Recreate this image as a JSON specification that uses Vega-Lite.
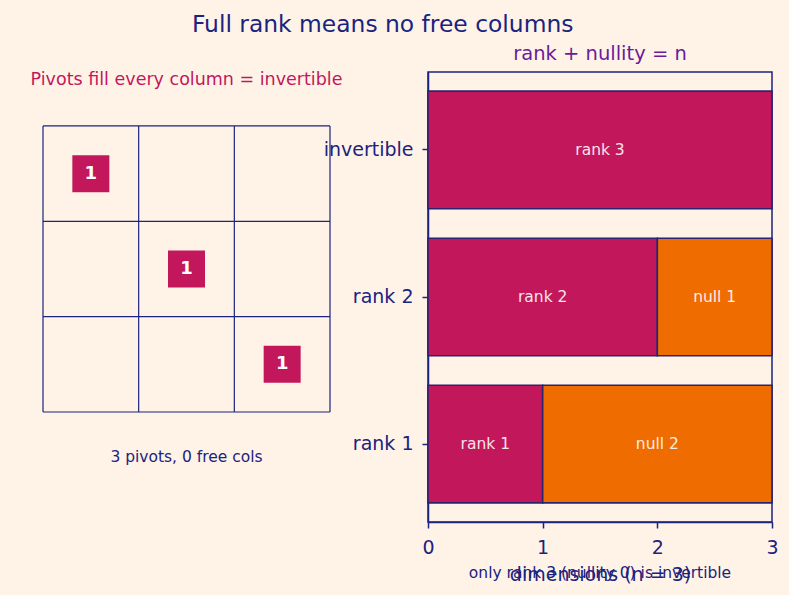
{
  "$schema": "https://vega.github.io/schema/vega-lite/v6.json",
  "background": "#FFF3E8",
  "padding": {"left": 30, "top": 13, "right": 10, "bottom": 10},
  "title": {"text": "Full rank means no free columns", "fontSize": 23.4, "fontWeight": "normal", "color": "#1A237E", "font": "DejaVu Sans", "anchor": "middle", "offset": 5, "dx": -22},
  "config": {"font": "DejaVu Sans", "view": {"stroke": null}},
  "spacing": 98,
  "bounds": "flush",
  "hconcat": [
    {
      "width": 287,
      "height": 450,
      "view": {"stroke": null},
      "layer": [
        {
          "data": {"values": [{"v": 0}, {"v": 1}, {"v": 2}, {"v": 3}]},
          "mark": {"type": "rule", "color": "#1A237E", "strokeWidth": 1.2},
          "encoding": {
            "x": {"field": "v", "type": "quantitative", "scale": {"domain": [0, 3], "nice": false, "zero": false}, "axis": null},
            "y": {"datum": 0, "type": "quantitative", "scale": {"domain": [-0.566, 4.154], "reverse": true, "nice": false, "zero": false}, "axis": null},
            "y2": {"datum": 3}
          }
        },
        {
          "data": {"values": [{"v": 0}, {"v": 1}, {"v": 2}, {"v": 3}]},
          "mark": {"type": "rule", "color": "#1A237E", "strokeWidth": 1.2},
          "encoding": {
            "y": {"field": "v", "type": "quantitative"},
            "x": {"datum": 0, "type": "quantitative"},
            "x2": {"datum": 3}
          }
        },
        {
          "data": {"values": [{"col": 0.5, "row": 0.5, "val": "1"}, {"col": 1.5, "row": 1.5, "val": "1"}, {"col": 2.5, "row": 2.5, "val": "1"}]},
          "layer": [
            {
              "mark": {"type": "square", "size": 1369, "filled": true, "color": "#C2185B", "opacity": 1},
              "encoding": {
                "x": {"field": "col", "type": "quantitative"},
                "y": {"field": "row", "type": "quantitative"}
              }
            },
            {
              "mark": {"type": "text", "color": "white", "fontSize": 18, "fontWeight": "bold", "baseline": "middle", "align": "center"},
              "encoding": {
                "x": {"field": "col", "type": "quantitative"},
                "y": {"field": "row", "type": "quantitative"},
                "text": {"field": "val"}
              }
            }
          ]
        },
        {
          "data": {"values": [{"t": "Pivots fill every column = invertible"}]},
          "mark": {"type": "text", "color": "#C2185B", "fontSize": 17.5, "baseline": "middle", "align": "center"},
          "encoding": {
            "x": {"datum": 1.5, "type": "quantitative"},
            "y": {"datum": -0.482, "type": "quantitative"},
            "text": {"field": "t"}
          }
        },
        {
          "data": {"values": [{"t": "3 pivots, 0 free cols"}]},
          "mark": {"type": "text", "color": "#1A237E", "fontSize": 15.5, "baseline": "middle", "align": "center"},
          "encoding": {
            "x": {"datum": 1.5, "type": "quantitative"},
            "y": {"datum": 3.473, "type": "quantitative"},
            "text": {"field": "t"}
          }
        }
      ]
    },
    {
      "width": 344,
      "height": 450,
      "view": {"stroke": "#1A237E", "strokeWidth": 1.5},
      "title": {"text": "rank + nullity = n", "color": "#6A1B9A", "fontSize": 19.5, "fontWeight": "normal", "offset": 8},
      "layer": [
        {
          "data": {"values": [
            {"cat": "invertible", "part": "rank", "k": 1, "val": 3, "label": "rank 3"},
            {"cat": "rank 2", "part": "rank", "k": 1, "val": 2, "label": "rank 2"},
            {"cat": "rank 2", "part": "null", "k": 2, "val": 1, "label": "null 1"},
            {"cat": "rank 1", "part": "rank", "k": 1, "val": 1, "label": "rank 1"},
            {"cat": "rank 1", "part": "null", "k": 2, "val": 2, "label": "null 2"}
          ]},
          "transform": [
            {"stack": "val", "groupby": ["cat"], "sort": [{"field": "k", "order": "ascending"}], "as": ["x0", "x1"]},
            {"calculate": "(datum.x0 + datum.x1) / 2", "as": "xm"}
          ],
          "layer": [
            {
              "mark": {"type": "bar", "stroke": "#2A2470", "strokeWidth": 1.6},
              "encoding": {
                "y": {"field": "cat", "type": "nominal", "sort": ["invertible", "rank 2", "rank 1"], "scale": {"paddingInner": 0.2, "paddingOuter": 0.13},
                  "axis": {"title": null, "labelFontSize": 19, "labelColor": "#1A237E", "tickColor": "#1A237E", "domainColor": "#1A237E", "domainWidth": 1.5, "tickWidth": 1.5, "tickSize": 6, "labelPadding": 9}},
                "x": {"field": "x0", "type": "quantitative", "scale": {"domain": [0, 3], "nice": false},
                  "axis": {"title": "dimensions (n = 3)", "titleFontSize": 19, "titleFontWeight": "normal", "titleColor": "#1A237E", "titlePadding": 8, "values": [0, 1, 2, 3], "format": "d", "labelFlush": false, "labelFontSize": 19, "labelColor": "#1A237E", "tickColor": "#1A237E", "domainColor": "#1A237E", "domainWidth": 1.5, "tickWidth": 1.5, "tickSize": 6, "labelPadding": 10, "grid": false}},
                "x2": {"field": "x1"},
                "color": {"field": "part", "type": "nominal", "scale": {"domain": ["rank", "null"], "range": ["#C2185B", "#EF6C00"]}, "legend": null}
              }
            },
            {
              "mark": {"type": "text", "color": "white", "opacity": 0.88, "fontSize": 15.5, "baseline": "middle", "align": "center"},
              "encoding": {
                "y": {"field": "cat", "type": "nominal", "sort": ["invertible", "rank 2", "rank 1"]},
                "x": {"field": "xm", "type": "quantitative"},
                "text": {"field": "label"}
              }
            }
          ]
        },
        {
          "data": {"values": [{"t": "only rank 3 (nullity 0) is invertible"}]},
          "mark": {"type": "text", "color": "#1A237E", "fontSize": 15.5, "baseline": "middle", "align": "center"},
          "encoding": {
            "x": {"datum": 1.5, "type": "quantitative"},
            "y": {"datum": -0.113, "type": "quantitative", "scale": {"domain": [0, 1], "nice": false, "zero": false}, "axis": null},
            "text": {"field": "t"}
          }
        }
      ],
      "resolve": {"scale": {"y": "independent"}}
    }
  ]
}
